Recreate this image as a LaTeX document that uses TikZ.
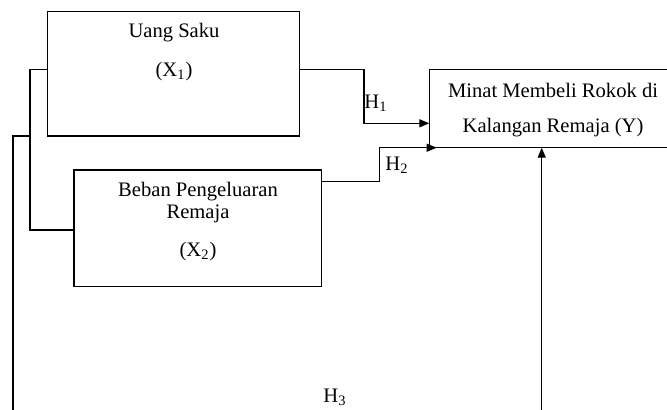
\documentclass[tikz,border=0pt]{standalone}
\usepackage{fontspec}
\setmainfont{Liberation Serif}
\usetikzlibrary{arrows.meta,fit}
\begin{document}
\begin{tikzpicture}[x=0.5pt,y=-0.5pt,
  box/.style={draw, line width=0.65pt, inner sep=0pt, outer sep=0pt},
  conn/.style={line width=0.65pt},
  arr/.style={conn, -{Triangle[length=5pt,width=4pt]}},
  lbl/.style={inner sep=0pt, anchor=base, font=\fontsize{10.3}{12}\selectfont},
  hl/.style={inner sep=0pt, anchor=base west, font=\fontsize{10.3}{12}\selectfont}]
\useasboundingbox (0,0) rectangle (667,409);
% boxes
\node[box, fit={(47.7,11.7) (299.3,136)}] (x1) {};
\node[box, fit={(74,170) (321.7,286.7)}] (x2) {};
\node[box, fit={(429.3,69.3) (690,147.7)}] (y) {};
% texts
\node[lbl] (t1a) at (174,37.3) {Uang Saku};
\node[lbl] (t1b) at (174,76) {(X\textsubscript{1})};
\node[lbl] (t2a) at (198,196) {Beban Pengeluaran};
\node[lbl] (t2b) at (198,218.3) {Remaja};
\node[lbl] (t2c) at (198,256.7) {(X\textsubscript{2})};
\node[lbl] (tya) at (553,97.3) {Minat Membeli Rokok di};
\node[lbl] (tyb) at (553,132.3) {Kalangan Remaja (Y)};
\node[hl] (h1) at (364,108.3) {H\textsubscript{1}};
\node[hl] (h2) at (385,170) {H\textsubscript{2}};
\node[hl] (h3) at (323,402.7) {H\textsubscript{3}};
% connector points
\coordinate (x1w) at (47.7,69.3);
\coordinate (x2w) at (74,230);
\coordinate (x1e) at (299.3,69.3);
\coordinate (x2e) at (321.7,181.7);
\coordinate (yh1) at (429.3,123.3);
\coordinate (yh2) at (436.7,147.7);
\coordinate (jl) at (30,136);
\coordinate (h3l) at (13,414);
\coordinate (h3r) at (541.7,414);
% connectors
\draw[conn] (x1w) -- ++(-17.7,0) |- (x2w);
\draw[conn] (jl) -| (h3l);
\draw[arr] (x1e) -- ++(64.7,0) |- (yh1);
\draw[arr] (x2e) -- ++(57.6,0) |- (yh2);
\draw[arr] (h3r) -- (h3r |- y.south);
\end{tikzpicture}
\end{document}
